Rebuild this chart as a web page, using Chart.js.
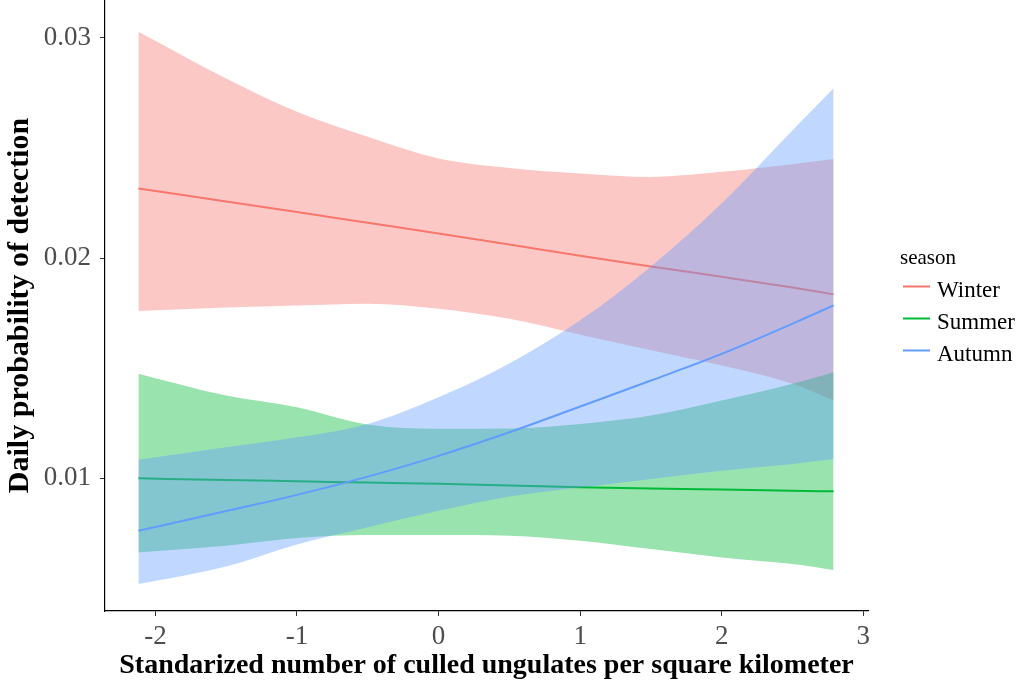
<!DOCTYPE html>
<html lang="en">
<head>
    <meta charset="UTF-8">
    <title>Daily probability of detection</title>
    <script src="https://cdn.jsdelivr.net/npm/chart.js"></script>
    <style>
        html, body { margin: 0; padding: 0; background: #fff; }
        .chart-container { width: 1017px; height: 680px; }
    </style>
</head>
<body>
    <div class="chart-container">
        <canvas id="detectionChart"></canvas>
    </div>
    <script>
        // standardized culled ungulates (x) sampled along the fitted curves
        var xs = [-2.12, -1.5, -1, -0.5, 0, 0.5, 1, 1.5, 2, 2.5, 2.79];

        var winterFit  = [0.02315, 0.02257, 0.02209, 0.02160, 0.02111, 0.02061, 0.02010, 0.01962, 0.01915, 0.01866, 0.01835];
        var winterLow  = [0.01759, 0.01775, 0.01785, 0.01793, 0.01770, 0.01724, 0.01652, 0.01581, 0.01512, 0.01429, 0.01353];
        var winterHigh = [0.03027, 0.02815, 0.02664, 0.02550, 0.02452, 0.02409, 0.02384, 0.02368, 0.02391, 0.02426, 0.02449];

        var summerFit  = [0.01000, 0.00993, 0.00987, 0.00981, 0.00975, 0.00968, 0.00960, 0.00954, 0.00949, 0.00944, 0.00941];
        var summerLow  = [0.00664, 0.00694, 0.00729, 0.00743, 0.00743, 0.00740, 0.00717, 0.00679, 0.00641, 0.00611, 0.00584];
        var summerHigh = [0.01475, 0.01376, 0.01323, 0.01244, 0.01225, 0.01226, 0.01247, 0.01285, 0.01353, 0.01429, 0.01482];

        var autumnFit  = [0.00762, 0.00852, 0.00925, 0.01008, 0.01102, 0.01209, 0.01326, 0.01444, 0.01565, 0.01702, 0.01785];
        var autumnLow  = [0.00520, 0.00600, 0.00700, 0.00778, 0.00853, 0.00918, 0.00959, 0.00997, 0.01035, 0.01065, 0.01088];
        var autumnHigh = [0.01085, 0.01141, 0.01186, 0.01247, 0.01368, 0.01521, 0.01717, 0.01962, 0.02248, 0.02580, 0.02771];

        var xTicks = [-2, -1, 0, 1, 2, 3];
        var yTicks = [0.01, 0.02, 0.03];

        var legendTitle = 'season';
        var seasons = ['Winter', 'Summer', 'Autumn'];
        var colors = ['#F8766D', '#00BA38', '#619CFF'];
        var fills = ['rgba(248,118,109,0.4)', 'rgba(0,186,56,0.4)', 'rgba(97,156,255,0.4)'];
        var series = [
            [winterFit, winterLow, winterHigh],
            [summerFit, summerLow, summerHigh],
            [autumnFit, autumnLow, autumnHigh]
        ];

        function pts(ys) {
            return xs.map(function(x, i) { return { x: x, y: ys[i] }; });
        }

        // ribbon then line per season; higher order is drawn first
        var datasets = [];
        series.forEach(function(s, k) {
            var base = (2 - k) * 3;
            datasets.push({
                label: seasons[k] + ' upper', data: pts(s[2]), order: base + 3,
                borderWidth: 0, pointRadius: 0, fill: '+1', backgroundColor: fills[k],
                cubicInterpolationMode: 'monotone', ribbon: true
            });
            datasets.push({
                label: seasons[k] + ' lower', data: pts(s[1]), order: base + 2,
                borderWidth: 0, pointRadius: 0, fill: false, backgroundColor: fills[k],
                cubicInterpolationMode: 'monotone', ribbon: true
            });
            datasets.push({
                label: seasons[k], data: pts(s[0]), order: base + 1,
                borderColor: colors[k], backgroundColor: colors[k], borderWidth: 2,
                pointRadius: 0, fill: false, cubicInterpolationMode: 'monotone'
            });
        });

        var serif = "'Liberation Serif', 'DejaVu Serif', serif";

        // ggplot-like legend to the right of the panel
        var seasonLegend = {
            id: 'seasonLegend',
            afterDraw: function(chart) {
                var ctx = chart.ctx;
                var area = chart.chartArea;
                var x0 = area.right + 35;
                var mid = (area.top + area.bottom) / 2;
                ctx.save();
                ctx.fillStyle = '#000';
                ctx.textBaseline = 'alphabetic';
                ctx.font = '21px ' + serif;
                ctx.fillText(legendTitle, x0 - 3, mid - 42);
                ctx.font = '23px ' + serif;
                var row = 0;
                chart.data.datasets.forEach(function(ds) {
                    if (ds.ribbon) return;
                    var y = mid - 19 + row * 32;
                    ctx.strokeStyle = ds.borderColor;
                    ctx.lineWidth = 2;
                    ctx.beginPath();
                    ctx.moveTo(x0, y);
                    ctx.lineTo(x0 + 27, y);
                    ctx.stroke();
                    ctx.fillText(ds.label, x0 + 34, y + 10);
                    row++;
                });
                ctx.restore();
            }
        };

        new Chart(document.getElementById('detectionChart'), {
            type: 'line',
            data: { datasets: datasets },
            plugins: [seasonLegend],
            options: {
                responsive: true,
                maintainAspectRatio: false,
                animation: false,
                layout: { padding: { top: 0, right: 149, bottom: 0, left: 0 } },
                plugins: {
                    tooltip: { enabled: false },
                    legend: { display: false }
                },
                scales: {
                    x: {
                        type: 'linear',
                        min: -2.356,
                        max: 3.033,
                        afterBuildTicks: function(axis) {
                            axis.ticks = xTicks.map(function(v) { return { value: v }; });
                        },
                        afterFit: function(axis) {
                            axis.height = 69;
                            axis.paddingLeft = 0;
                            axis.paddingRight = 0;
                        },
                        ticks: { color: '#4d4d4d', font: { family: serif, size: 27 }, padding: 5, maxRotation: 0 },
                        grid: { display: true, drawOnChartArea: false, drawTicks: true, tickLength: 5, color: '#333' },
                        border: { color: '#000', width: 1.2 },
                        title: { display: true, text: 'Standarized number of culled ungulates per square kilometer', color: '#000', font: { family: serif, size: 28, weight: 'bold', lineHeight: 1.05 }, padding: { top: 0, bottom: 0 } }
                    },
                    y: {
                        type: 'linear',
                        min: 0.00398,
                        max: 0.03171,
                        afterBuildTicks: function(axis) {
                            axis.ticks = yTicks.map(function(v) { return { value: v }; });
                        },
                        afterFit: function(axis) {
                            axis.width = 105;
                            axis.paddingTop = 0;
                            axis.paddingBottom = 0;
                        },
                        ticks: {
                            color: '#4d4d4d', font: { family: serif, size: 27 }, padding: 9,
                            callback: function(v) { return v.toFixed(2); }
                        },
                        grid: { display: true, drawOnChartArea: false, drawTicks: true, tickLength: 5, color: '#333' },
                        border: { color: '#000', width: 1.2 },
                        title: { display: true, text: 'Daily probability of detection', color: '#000', font: { family: serif, size: 30, weight: 'bold' }, padding: { top: 2, bottom: 0 } }
                    }
                }
            }
        });
    </script>
</body>
</html>
